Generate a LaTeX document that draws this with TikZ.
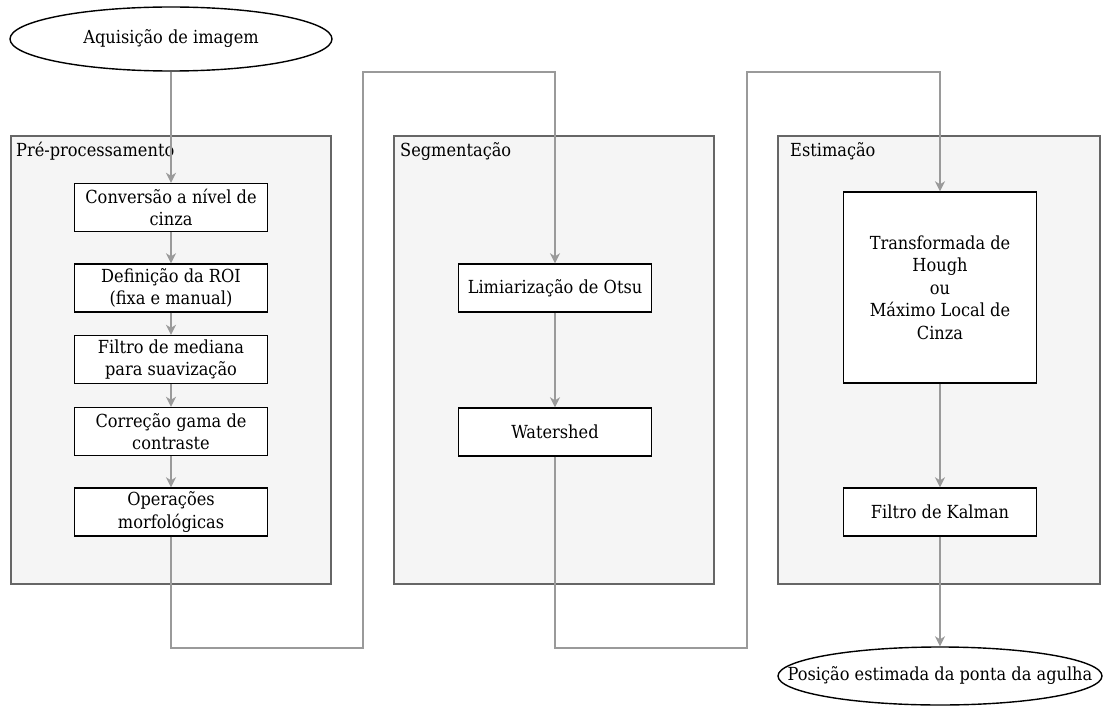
\documentclass[tikz,border=0pt]{standalone}
\usepackage{fontspec}
\setmainfont{DejaVu Serif Condensed}
\usetikzlibrary{arrows.meta,shapes.geometric}
\definecolor{cinzalinha}{HTML}{9A9A9A}
\definecolor{cinzaborda}{HTML}{666666}
\definecolor{cinzafundo}{HTML}{F5F5F5}

\begin{document}
\begin{tikzpicture}[x=1pt,y=-1pt,
  font=\fontsize{18}{22.5}\selectfont,
  grupo/.style={draw=cinzaborda, fill=cinzafundo, line width=1.4pt, minimum width=320pt, minimum height=448pt, inner sep=0pt},
  rotulo/.style={inner sep=0pt, anchor=base west},
  etapa/.style={draw=black, fill=white, line width=1.4pt, minimum width=193pt, minimum height=48pt, align=center, inner sep=0pt},
  terminal/.style={ellipse, draw=black, fill=white, line width=1.4pt, inner sep=0pt},
  seta/.style={draw=cinzalinha, line width=1.6pt, -{Stealth[length=10pt,width=10pt,inset=3pt]}}]
\useasboundingbox (0,0) rectangle (1103,706);

% grupos
\node[grupo] (pre) at (171,360) {};
\node[grupo] (seg) at (554,360) {};
\node[grupo, minimum width=322pt] (est) at (939,360) {};
\node[rotulo] (lpre) at (16,157) {Pré-processamento};
\node[rotulo] (lseg) at (400,157) {Segmentação};
\node[rotulo] (lest) at (790,157) {Estimação};

% inicio e fim
\node[terminal, minimum width=322pt, minimum height=64pt] (ini) at (171,39) {Aquisição de imagem};
\node[terminal, minimum width=324pt, minimum height=58pt] (fim) at (940,676) {\makebox[0pt]{Posição estimada da ponta da agulha}};

% pre-processamento
\node[etapa] (b1) at (171,207.5) {Conversão a nível de\\cinza};
\node[etapa] (b2) at (171,288) {Definição da ROI\\(fixa e manual)};
\node[etapa] (b3) at (171,359.5) {Filtro de mediana\\para suavização};
\node[etapa] (b4) at (171,431.5) {Correção gama de\\contraste};
\node[etapa] (b5) at (171,512) {Operações\\morfológicas};

% segmentacao
\node[etapa] (lim) at (555,288) {Limiarização de Otsu};
\node[etapa] (wat) at (555,432) {Watershed};

% estimacao
\node[etapa, minimum height=191pt] (hough) at (940,287.5) {Transformada de\\Hough\\ou\\Máximo Local de\\Cinza};
\node[etapa] (kal) at (940,512) {Filtro de Kalman};

% pontos de dobra
\coordinate (d1) at (363,648);
\coordinate (s1) at (363,72);
\coordinate (d2) at (747,648);
\coordinate (s2) at (747,72);

\draw[seta] (ini) -- (b1);
\draw[seta] (b1) -- (b2);
\draw[seta] (b2) -- (b3);
\draw[seta] (b3) -- (b4);
\draw[seta] (b4) -- (b5);
\draw[seta] (b5.south) |- (d1) -- (s1) -| (lim.north);
\draw[seta] (lim) -- (wat);
\draw[seta] (wat.south) |- (d2) -- (s2) -| (hough.north);
\draw[seta] (hough) -- (kal);
\draw[seta] (kal) -- (fim);
\end{tikzpicture}
\end{document}
